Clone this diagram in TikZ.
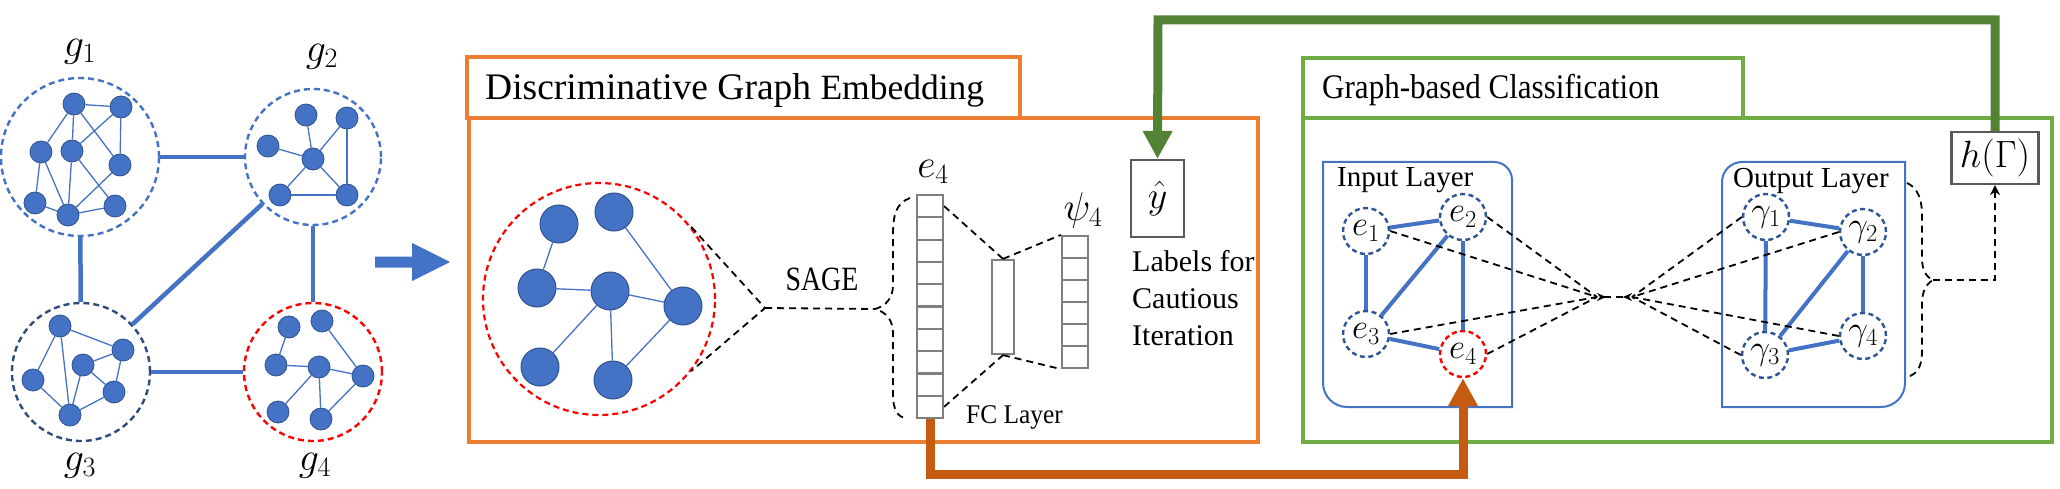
\documentclass[tikz,border=0pt]{standalone}
\usepackage{fix-cm}
\usepackage{fontspec}
\setmainfont{Liberation Serif}
\usetikzlibrary{arrows.meta,calc}
\definecolor{nblue}{HTML}{4472C4}
\definecolor{nbord}{HTML}{2F528F}
\definecolor{dnavy}{HTML}{2F5597}
\definecolor{gthree}{HTML}{2F4B7C}
\definecolor{boxor}{HTML}{ED7D31}
\definecolor{boxgr}{HTML}{70AD47}
\definecolor{arrgr}{HTML}{548235}
\definecolor{arror}{HTML}{C55A11}
\definecolor{cellg}{HTML}{7F7F7F}
\definecolor{dgrey}{HTML}{595959}
\begin{document}
\begin{tikzpicture}[x=1pt,y=-1pt,
 gn/.style={circle, fill=nblue, draw=nbord, line width=0.8pt, minimum size=22pt, inner sep=0pt},
 bgn/.style={gn, minimum size=38pt, line width=1pt},
 gedge/.style={draw=nblue, line width=1.3pt},
 gcirc/.style={circle, draw=nblue, dash pattern=on 6pt off 4pt, line width=2.4pt, inner sep=0pt},
 glink/.style={draw=nblue, line width=4.5pt},
 glab/.style={anchor=base, inner sep=0pt, font=\fontsize{40}{44}\selectfont},
 obox/.style={draw=boxor, line width=4pt},
 grbox/.style={draw=boxgr, line width=3.5pt},
 cell/.style={draw=cellg, line width=2.2pt, inner sep=0pt, minimum width=26pt, minimum height=22.3pt},
 fan/.style={draw=black, line width=1.8pt, dash pattern=on 7pt off 5pt},
 enode/.style={circle, draw=dnavy, dash pattern=on 5pt off 3.5pt, line width=2.4pt, fill=white, minimum size=46pt, inner sep=0pt, font=\fontsize{35}{38}\selectfont},
 eedge/.style={draw=nblue, line width=4pt},
 lbox/.style={draw=nblue, line width=2pt},
 dbox/.style={draw=dgrey, line width=2.2pt, inner sep=0pt, fill=white},
 txt/.style={anchor=base west, inner sep=0pt},
]
\useasboundingbox (0,0) rectangle (2060,489);

% ---------------- left: four graphs ----------------
\node[gcirc, minimum size=158pt] (G1) at (80,157) {};
\node[gcirc, minimum size=136pt] (G2) at (313,157) {};
\node[gcirc, draw=gthree, minimum size=138pt] (G3) at (81,372) {};
\node[gcirc, draw=red, minimum size=138pt] (G4) at (313,372) {};
\draw[glink] (G1) -- (G2);
\draw[glink] (G1) -- (G3);
\draw[glink] (G2) -- (G4);
\draw[glink] (G2) -- (G3);
\draw[glink] (G3) -- (G4);

\node[glab] (L1) at (80,57) {$g_1$};
\node[glab] (L2) at (322,62) {$g_2$};
\node[glab] (L3) at (80,470) {$g_3$};
\node[glab] (L4) at (315,470) {$g_4$};

% g1
\node[gn] (a1) at (74,104) {};
\node[gn] (b1) at (121,107) {};
\node[gn] (c1) at (41,152) {};
\node[gn] (d1) at (72,151) {};
\node[gn] (e1n) at (120,165) {};
\node[gn] (f1) at (35,203) {};
\node[gn] (h1) at (68,215) {};
\node[gn] (i1) at (115,206) {};
\foreach \u/\v in {a1/b1,a1/c1,a1/d1,a1/e1n,b1/e1n,b1/d1,c1/f1,c1/h1,d1/h1,d1/i1,e1n/h1,f1/h1,h1/i1}
  \draw[gedge] (\u) -- (\v);
% g2
\node[gn] (a2) at (306,115) {};
\node[gn] (b2) at (347,118) {};
\node[gn] (c2) at (268,146) {};
\node[gn] (d2) at (313,159) {};
\node[gn] (e2n) at (280,195) {};
\node[gn] (f2) at (347,195) {};
\foreach \u/\v in {a2/d2,c2/d2,b2/d2,b2/f2,d2/e2n,d2/f2,e2n/f2}
  \draw[gedge] (\u) -- (\v);
% g3
\node[gn] (a3) at (60,326) {};
\node[gn] (b3) at (123,350) {};
\node[gn] (c3) at (83,365) {};
\node[gn] (d3) at (33,380) {};
\node[gn] (e3n) at (114,392) {};
\node[gn] (f3) at (70,415) {};
\foreach \u/\v in {a3/b3,a3/d3,a3/f3,c3/b3,b3/e3n,c3/e3n,c3/f3,d3/f3,e3n/f3}
  \draw[gedge] (\u) -- (\v);
% g4
\node[gn] (a4) at (289,327) {};
\node[gn] (b4) at (322,321) {};
\node[gn] (c4) at (276,365) {};
\node[gn] (d4) at (319,367) {};
\node[gn] (e4n) at (363,376) {};
\node[gn] (f4) at (278,412) {};
\node[gn] (h4) at (321,419) {};
\foreach \u/\v in {a4/c4,c4/d4,d4/e4n,b4/e4n,d4/f4,d4/h4,h4/e4n}
  \draw[gedge] (\u) -- (\v);

% big block arrow
\fill[nblue] (375,256.5) -- (412,256.5) -- (412,243) -- (450,262) -- (412,281) -- (412,267.5) -- (375,267.5) -- cycle;

% ---------------- Discriminative Graph Embedding ----------------
\draw[obox] (467,57) rectangle (1020,118);
\draw[obox] (469,118) rectangle (1258,442);
\node[txt, font=\fontsize{37.5}{40}\selectfont] (T1) at (485,100) {Discriminative Graph {\fontsize{35.5}{38}\selectfont Embedding}};

\node[gcirc, draw=red, line width=2.2pt, minimum size=232pt] (RC) at (599,299) {};
\node[bgn] (ra) at (559,224) {};
\node[bgn] (rb) at (614,212) {};
\node[bgn] (rc) at (537,288) {};
\node[bgn] (rd) at (610,291) {};
\node[bgn] (re) at (683,306) {};
\node[bgn] (rf) at (540,367) {};
\node[bgn] (rg) at (613,380) {};
\foreach \u/\v in {ra/rc,rc/rd,rd/re,rb/re,rd/rf,rd/rg,rg/re}
  \draw[gedge] (\u) -- (\v);

\coordinate (apex) at (765,308);
\coordinate (btip) at (875,309);
\draw[fan] (RC.38) -- (apex) -- (RC.-38);
\draw[fan] (apex) -- (btip);
\node[anchor=base, inner sep=0pt, font=\fontsize{34}{36}\selectfont] (sage) at (822,290) {\scalebox{0.82}[1]{SAGE}};
\draw[fan] (910,198) .. controls (896,203) and (893,215) .. (893,235) -- (893,285) .. controls (893,298) and (886,306) .. (btip) .. controls (886,312) and (893,320) .. (893,333) -- (893,395) .. controls (893,410) and (898,418) .. (907,418);

% e4 column
\foreach \i in {0,...,9}
  \node[cell] (ec\i) at (930,{206.15+22.3*\i}) {};
\node[glab, font=\fontsize{40}{44}\selectfont] (e4lab) at (933,178) {$e_4$};
% FC layer
\node[cell, minimum width=22pt, minimum height=94pt] (fc) at (1003,307) {};
% psi column
\foreach \i in {0,...,5}
  \node[cell, minimum height=22pt] (pc\i) at (1075,{247+22*\i}) {};
\node[glab, font=\fontsize{40}{44}\selectfont] (psilab) at (1083,220) {$\psi_4$};
\draw[fan] (ec0.east) -- (fc.north);
\draw[fan] (ec9.east) -- (fc.south);
\draw[fan] (fc.north) -- (pc0.north west);
\draw[fan] (fc.south) -- (pc5.south west);
\node[txt, font=\fontsize{27}{30}\selectfont] (fclab) at (966,423) {\scalebox{0.94}[1]{FC Layer}};

% y hat box
\node[dbox, minimum width=53pt, minimum height=77pt, font=\fontsize{38}{40}\selectfont] (yhat) at (1157.5,198.5) {$\hat{y}$};
\node[txt, font=\fontsize{30}{34}\selectfont] (lab1) at (1132,271) {Labels for};
\node[txt, font=\fontsize{30}{34}\selectfont] (lab2) at (1132,308) {Cautious};
\node[txt, font=\fontsize{30}{34}\selectfont] (lab3) at (1132,345) {Iteration};

% ---------------- Graph-based Classification ----------------
\draw[grbox] (1303,58) rectangle (1743,118);
\draw[grbox] (1303,118) rectangle (2052,442);
\node[txt, font=\fontsize{34.5}{38}\selectfont] (T2) at (1322,99) {\scalebox{0.9}[1]{Graph-based Classification}};

% input layer box (rounded top-right, bottom-left)
\draw[lbox] (1323,162) -- (1420,162) {[rounded corners=18pt] -- (1512,162) -- (1512,280)} -- (1512,407) -- (1420,407) {[rounded corners=24pt] -- (1323,407) -- (1323,280)} -- cycle;
% output layer box (rounded top-left, bottom-right)
\draw[lbox] (1722,280) {[rounded corners=20pt] -- (1722,162) -- (1810,162)} -- (1905,162) -- (1905,280) {[rounded corners=24pt] -- (1905,407) -- (1810,407)} -- (1722,407) -- cycle;
\node[txt, font=\fontsize{29}{31}\selectfont] (inl) at (1337,187) {Input Layer};
\node[txt, font=\fontsize{29}{31}\selectfont] (outl) at (1733,188) {Output Layer};

\node[enode] (e1) at (1366,231) {$e_1$};
\node[enode] (e2) at (1463,217) {$e_2$};
\node[enode] (e3) at (1366,334) {$e_3$};
\node[enode, draw=red] (e4) at (1463,354) {$e_4$};
\foreach \u/\v in {e1/e2,e1/e3,e2/e3,e2/e4,e3/e4}
  \draw[eedge] (\u) -- (\v);

\node[enode] (y1) at (1766,217) {$\gamma_1$};
\node[enode] (y2) at (1863,232) {$\gamma_2$};
\node[enode] (y3) at (1765,355) {$\gamma_3$};
\node[enode] (y4) at (1863,336) {$\gamma_4$};
\foreach \u/\v in {y1/y2,y1/y3,y2/y3,y2/y4,y3/y4}
  \draw[eedge] (\u) -- (\v);

\coordinate (cL) at (1597,297);
\coordinate (cR) at (1632,297);
\foreach \n in {e1,e2,e3,e4}
  \draw[fan] (\n.east) -- (cL);
\foreach \n in {y1,y2,y3,y4}
  \draw[fan] (\n.west) -- (cR);
\draw[fan, {Stealth[reversed,length=9pt,width=8pt]}-{Stealth[reversed,length=9pt,width=8pt]}] (cL) -- (cR);

% output brace and h box
\node[dbox, minimum width=87pt, minimum height=52pt, font=\fontsize{38}{40}\selectfont] (hG) at (1995,158) {$h(\Gamma)$};
\coordinate (obt) at (1933,280);
\draw[fan] (1907,183) .. controls (1918,188) and (1922,200) .. (1922,215) -- (1922,258) .. controls (1922,270) and (1926,277) .. (obt) .. controls (1926,284) and (1922,292) .. (1922,303) -- (1922,350) .. controls (1922,366) and (1918,374) .. (1907,377);
\draw[fan, -{Stealth[length=10pt,width=10pt]}] (obt) -| (hG.south);

% thick feedback arrows
\coordinate (gtop) at (1158,20);
\draw[arrgr, line width=9pt, -{Triangle[length=28pt,width=28pt]}] (hG.north) |- (gtop) -- (yhat.north);
\coordinate (obend) at (1463,474);
\draw[arror, line width=9pt, -{Triangle[length=28pt,width=28pt]}] (ec9.south) |- (obend) -- (e4.south);
\end{tikzpicture}
\end{document}
